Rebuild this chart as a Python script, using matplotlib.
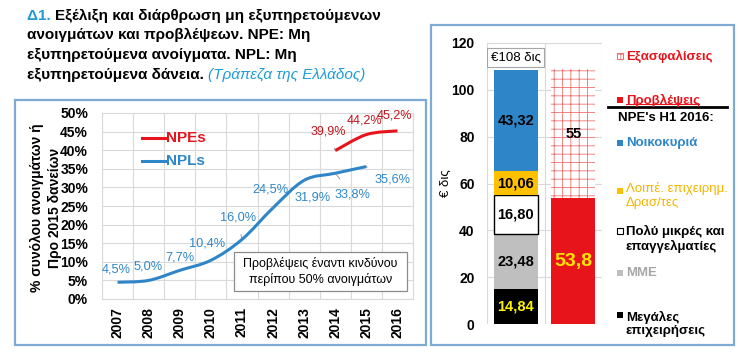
import matplotlib
matplotlib.use('Agg')
import matplotlib.pyplot as plt
import numpy as np
from matplotlib.patches import Rectangle, PathPatch
from matplotlib.lines import Line2D
from matplotlib.path import Path

plt.rcParams['font.family'] = ['Liberation Sans', 'DejaVu Sans']

# ---------------- data ----------------
years = ['2007', '2008', '2009', '2010', '2011', '2012', '2013', '2014', '2015', '2016']
npl_values = [4.5, 5.0, 7.7, 10.4, 16.0, 24.5, 31.9, 33.8, 35.6]
npl_labels = ['4,5%', '5,0%', '7,7%', '10,4%', '16,0%', '24,5%', '31,9%', '33,8%', '35,6%']
npe_years = ['2014', '2015', '2016']
npe_values = [39.9, 44.2, 45.2]
npe_labels = ['39,9%', '44,2%', '45,2%']

segment_names = ['Μεγάλες\nεπιχειρήσεις', 'ΜΜΕ', 'Πολύ μικρές και\nεπαγγελματίες',
                 'Λοιπέ. επιχειρημ.\nΔρασ/τες', 'Νοικοκυριά']
segment_values = [14.84, 23.48, 16.80, 10.06, 43.32]
segment_labels = ['14,84', '23,48', '16,80', '10,06', '43,32']
coverage_names = ['Προβλέψεις', 'Εξασφαλίσεις']
coverage_values = [53.8, 55]
coverage_labels = ['53,8', '55']
total_label = '€108 δις'

# ---------------- styles ----------------
W, H = 755, 360
RED = '#E8141B'
BLUE = '#2E86C8'
ORANGE = '#FFC000'
GRAY = '#BFBFBF'
GRID = '#D9D9D9'
BOX = '#7EAAD4'
YELLOW = '#FFF200'

def fx(x):
    return x / W

def fy(y):
    return 1 - y / H

def smooth_path(xs, ys):
    """Excel-like smoothed line: cubic Bezier segments through the data points."""
    pts = np.column_stack([xs, ys]).astype(float)
    n = len(pts)
    verts = [pts[0]]
    codes = [Path.MOVETO]
    for i in range(n - 1):
        p0 = pts[i - 1] if i > 0 else pts[i]
        p1 = pts[i]
        p2 = pts[i + 1]
        p3 = pts[i + 2] if i + 2 < n else pts[i + 1]
        c1 = p1 + (p2 - p0) / 6.0
        c2 = p2 - (p3 - p1) / 6.0
        verts += [c1, c2, p2]
        codes += [Path.CURVE4] * 3
    return Path(verts, codes)

fig = plt.figure(figsize=(W / 100, H / 100), dpi=100)
fig.patch.set_facecolor('white')

# outer boxes
fig.add_artist(Rectangle((fx(15), fy(345)), (426 - 15) / W, (345 - 100) / H,
                         transform=fig.transFigure, fill=False, edgecolor=BOX, lw=1.6))
fig.add_artist(Rectangle((fx(431), fy(345)), (734 - 431) / W, (345 - 25) / H,
                         transform=fig.transFigure, fill=False, edgecolor=BOX, lw=1.6))

# ---------------- title ----------------
renderer = fig.canvas.get_renderer()
tfs = 11
title_lines = [
    [('Δ1. ', '#1F9BD7', 'bold', 'normal'), ('Εξέλιξη και διάρθρωση μη εξυπηρετούμενων', 'black', 'bold', 'normal')],
    [('ανοιγμάτων και προβλέψεων. NPE: Μη', 'black', 'bold', 'normal')],
    [('εξυπηρετούμενα ανοίγματα. NPL: Μη', 'black', 'bold', 'normal')],
    [('εξυπηρετούμενα δάνεια. ', 'black', 'bold', 'normal'), ('(Τράπεζα της Ελλάδος)', '#1F9BD7', 'normal', 'italic')],
]
baselines = [20, 39.5, 59, 78.5]
for parts, yb in zip(title_lines, baselines):
    xpos = 27
    for txt, col, wt, st in parts:
        t = fig.text(fx(xpos), fy(yb), txt, color=col, fontweight=wt, fontstyle=st,
                     fontsize=tfs, va='baseline', ha='left')
        bb = t.get_window_extent(renderer)
        xpos += bb.width

# ---------------- left chart ----------------
ax = fig.add_axes([fx(102), fy(299), (413 - 102) / W, (299 - 113) / H])
xi = np.arange(len(years))
npl_x = np.arange(len(npl_values))
npe_x = np.array([years.index(y) for y in npe_years])
ax.add_patch(PathPatch(smooth_path(npl_x, npl_values), fill=False, edgecolor=BLUE, lw=2.2,
                       capstyle='butt', zorder=3))
ax.add_patch(PathPatch(smooth_path(npe_x, npe_values), fill=False, edgecolor=RED, lw=2.2,
                       capstyle='butt', zorder=3))
ax.set_xlim(-0.5, len(years) - 0.5)
ax.set_ylim(0, 50)
ax.set_yticks(np.arange(0, 51, 5))
ax.set_yticklabels([f'{v}%' for v in range(0, 51, 5)], fontweight='bold', fontsize=10)
ax.set_xticks(xi)
ax.set_xticklabels(years, rotation=90, fontweight='bold', fontsize=10)
ax.set_xticks(np.arange(-0.5, len(years), 1), minor=True)
ax.grid(which='minor', axis='x', color=GRID, lw=0.8)
ax.grid(which='major', axis='y', color=GRID, lw=0.8)
ax.tick_params(which='both', length=0)
ax.tick_params(axis='y', pad=10)
ax.tick_params(axis='x', pad=6)
for s in ax.spines.values():
    s.set_color(GRID)
ax.set_axisbelow(True)

npl_offsets = [(-1, 13), (-1, 14), (0, 13), (-4, 17), (-4, 22), (-3, 18), (8, -17), (17, -21), (26, -13)]
npl_leader = [False, False, False, True, True, True, True, True, True]
for x, v, lab, off, ld in zip(npl_x, npl_values, npl_labels, npl_offsets, npl_leader):
    ax.annotate(lab, (x, v), xytext=off, textcoords='offset pixels', ha='center', va='center',
                color=BLUE, fontsize=9.2,
                arrowprops=dict(arrowstyle='-', color='#8C8C8C', lw=0.6, shrinkA=6, shrinkB=1) if ld else None)
npe_offsets = [(-7, 19), (-2, 14), (-3, 15)]
npe_leader = [True, False, False]
for x, v, lab, off, ld in zip(npe_x, npe_values, npe_labels, npe_offsets, npe_leader):
    ax.annotate(lab, (x, v), xytext=off, textcoords='offset pixels', ha='center', va='center',
                color='#C0141B', fontsize=9,
                arrowprops=dict(arrowstyle='-', color='#8C8C8C', lw=0.6, shrinkA=6, shrinkB=1) if ld else None)

# legend of left chart
fig.add_artist(Line2D([fx(142), fx(165)], [fy(138), fy(138)], color=RED, lw=2.2, transform=fig.transFigure))
fig.text(fx(166), fy(138), 'NPEs', color=RED, fontweight='bold', fontsize=11, va='center')
fig.add_artist(Line2D([fx(142), fx(165)], [fy(161), fy(161)], color=BLUE, lw=2.2, transform=fig.transFigure))
fig.text(fx(166), fy(161), 'NPLs', color=BLUE, fontweight='bold', fontsize=11, va='center')

# note box
fig.add_artist(Rectangle((fx(234), fy(291)), (407 - 234) / W, (291 - 252) / H,
                         transform=fig.transFigure, facecolor='white', edgecolor='#8C8C8C', lw=0.9, zorder=5))
fig.text(fx(320.5), fy(271.5), 'Προβλέψεις έναντι κινδύνου\nπερίπου 50% ανοιγμάτων', ha='center', va='center',
         fontsize=9, linespacing=1.35, zorder=6)

# y label
fig.text(fx(46), fy(208), '% συνόλου ανοιγμάτων ή\nΠρο 2015 δανείων', rotation=90, ha='center', va='center',
         fontsize=10, fontweight='bold', multialignment='center', linespacing=1.3)

# ---------------- right chart ----------------
ax2 = fig.add_axes([fx(487), fy(324), (602 - 487) / W, (324 - 43) / H])
ax2.set_xlim(-0.5, 1.5)
ax2.set_ylim(0, 120)
bw = 0.77
seg_colors = ['black', GRAY, 'white', ORANGE, BLUE]
seg_edges = ['black', GRAY, 'black', ORANGE, BLUE]
seg_txt_colors = [YELLOW, 'black', 'black', 'black', 'black']
bottom = 0
for v, lab, fc, ec, tc in zip(segment_values, segment_labels, seg_colors, seg_edges, seg_txt_colors):
    ax2.bar(0, v, bottom=bottom, width=bw, color=fc, edgecolor=ec, lw=1.0 if ec == 'black' and fc == 'white' else 0,
            zorder=3)
    ax2.text(0, bottom + v / 2, lab, ha='center', va='center', fontweight='bold', fontsize=10.5, color=tc, zorder=4)
    bottom += v
ax2.text(0, 113.7, total_label, ha='center', va='center', fontsize=9.5, zorder=4,
         bbox=dict(boxstyle='square,pad=0.25', facecolor='white', edgecolor='#A6A6A6', lw=0.8))

ax2.bar(1, coverage_values[0], width=bw, color=RED, lw=0, zorder=3)
ax2.text(1, coverage_values[0] / 2, coverage_labels[0], ha='center', va='center', fontweight='bold',
         fontsize=14, color='#FFE600', zorder=4)
plt.rcParams['hatch.linewidth'] = 0.6
ax2.bar(1, coverage_values[1], bottom=coverage_values[0], width=bw, facecolor='white', edgecolor='#F07070',
        hatch='++', lw=0, zorder=3)
ax2.text(1, coverage_values[0] + coverage_values[1] / 2, coverage_labels[1], ha='center', va='center',
         fontweight='bold', fontsize=10.5, color='black', zorder=4)

ax2.set_yticks(np.arange(0, 121, 20))
ax2.set_yticklabels([str(v) for v in range(0, 121, 20)], fontweight='bold', fontsize=10)
ax2.set_xticks([])
ax2.set_xticks([-0.5, 0.5, 1.5], minor=True)
ax2.grid(which='minor', axis='x', color=GRID, lw=0.8)
ax2.grid(which='major', axis='y', color=GRID, lw=0.8)
ax2.tick_params(which='both', length=0)
ax2.tick_params(axis='y', pad=9)
for s in ax2.spines.values():
    s.set_visible(False)
ax2.set_axisbelow(True)
fig.text(fx(446), fy(183), '€ δις', rotation=90, ha='center', va='center', fontsize=9.5)

# ---------------- right legend ----------------
lfs = 9.5
def marker(y, fc, ec=None, hatch=None):
    fig.add_artist(Rectangle((fx(617), fy(y + 3)), 6 / W, 6 / H, transform=fig.transFigure,
                             facecolor=fc, edgecolor=ec if ec else fc, lw=0.8 if ec else 0, hatch=hatch))

marker(56, 'white', '#F07070', '++')
fig.text(fx(626), fy(56), coverage_names[1], color=RED, fontweight='bold', fontsize=lfs, va='center')
marker(100, RED)
fig.text(fx(626), fy(100), coverage_names[0], color=RED, fontweight='bold', fontsize=lfs, va='center')
fig.add_artist(Line2D([fx(626), fx(699)], [fy(104), fy(104)], color=RED, lw=0.8, transform=fig.transFigure))
fig.add_artist(Line2D([fx(608), fx(727)], [fy(107), fy(107)], color='black', lw=2.0, transform=fig.transFigure))
fig.text(fx(618), fy(118), "NPE's H1 2016:", color='black', fontweight='bold', fontsize=lfs, va='center')

leg_y = [324, 273, 239, 195.5, 143]
leg_colors = ['black', '#A6A6A6', 'black', '#F5B400', BLUE]
leg_fc = ['black', GRAY, 'white', ORANGE, BLUE]
leg_ec = [None, None, 'black', None, None]
leg_wt = ['bold', 'bold', 'bold', 'normal', 'bold']
leg_marker_y = [315, 273, 231, 191, 143]
for name, y, col, fc, ec, wt, my in zip(segment_names, leg_y, leg_colors, leg_fc, leg_ec, leg_wt, leg_marker_y):
    marker(my, fc, ec)
    fig.text(fx(626), fy(y), name, color=col, fontweight=wt, fontsize=lfs, va='center', linespacing=1.2)

fig.savefig('out.png', dpi=100, facecolor='white')
